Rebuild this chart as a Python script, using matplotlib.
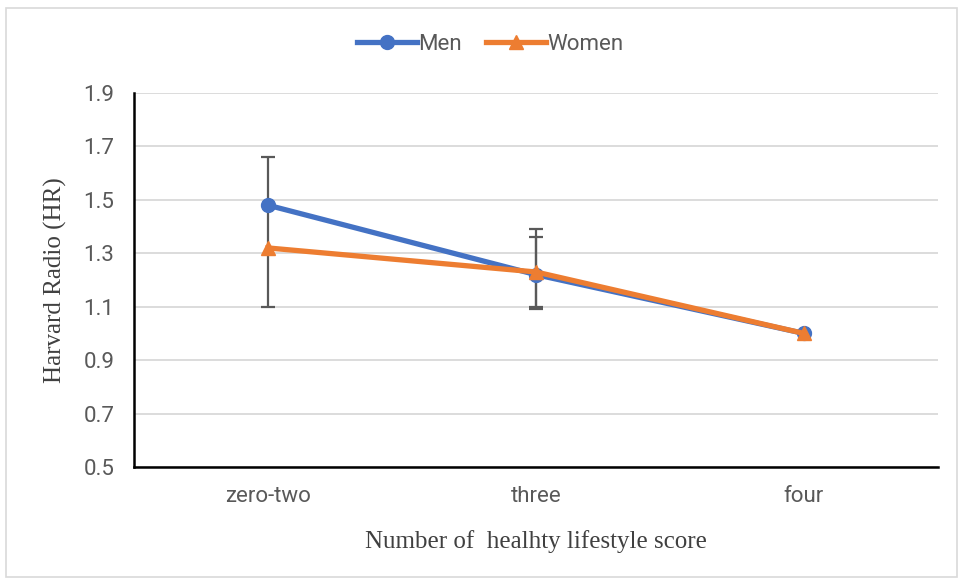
import numpy as np
import matplotlib.pyplot as plt
from matplotlib.patches import Rectangle

# data
categories = ['zero-two', 'three', 'four']
men = [1.48, 1.22, 1.00]
women = [1.32, 1.23, 1.00]
men_lower = [1.10, 1.09, np.nan]
men_upper = [1.66, 1.36, np.nan]
women_lower = [np.nan, 1.10, np.nan]
women_upper = [np.nan, 1.39, np.nan]
yticks = [0.5, 0.7, 0.9, 1.1, 1.3, 1.5, 1.7, 1.9]

blue = '#4472C4'
orange = '#ED7D31'
gray = '#595959'
sans = ['Roboto', 'DejaVu Sans']
serif = ['Liberation Serif', 'DejaVu Serif']

fig = plt.figure(figsize=(9.61, 5.8), dpi=100)
ax = fig.add_axes([0.1394, 0.1948, 0.8366, 0.6449])

x = np.arange(len(categories))

# error bars
men_err = [np.array(men) - np.array(men_lower), np.array(men_upper) - np.array(men)]
women_err = [np.array(women) - np.array(women_lower), np.array(women_upper) - np.array(women)]
ax.errorbar(x, men, yerr=men_err, fmt='none', ecolor=gray, elinewidth=1.6, capsize=5, capthick=1.6, zorder=2)
ax.errorbar(x, women, yerr=women_err, fmt='none', ecolor=gray, elinewidth=1.6, capsize=5, capthick=1.6, zorder=2)

ax.plot(x, men, color=blue, linewidth=3.8, marker='o', markersize=10, label='Men', zorder=3)
ax.plot(x, women, color=orange, linewidth=3.8, marker='^', markersize=10, label='Women', zorder=4)

ax.set_xlim(-0.5, 2.5)
ax.set_ylim(0.5, 1.9)
ax.set_yticks(yticks)
ax.set_yticklabels([f'{v:.1f}' for v in yticks])
ax.set_xticks(x)
ax.set_xticklabels(categories)
ax.tick_params(axis='both', length=0, labelsize=16, colors=gray, labelcolor=gray)
ax.tick_params(axis='x', pad=14)
ax.tick_params(axis='y', pad=14)
for lbl in ax.get_xticklabels() + ax.get_yticklabels():
    lbl.set_family(sans)

ax.yaxis.grid(True, color='#d9d9d9', linewidth=1.3)
ax.set_axisbelow(True)
for s in ['top', 'right']:
    ax.spines[s].set_visible(False)
for s in ['left', 'bottom']:
    ax.spines[s].set_linewidth(1.8)
    ax.spines[s].set_color('black')

ax.set_xlabel('Number of  healhty lifestyle score', fontsize=18, family=serif, color='#404040', labelpad=16)
ax.set_ylabel('Harvard Radio (HR)', fontsize=18, family=serif, color='#404040', labelpad=12)

leg = fig.legend(loc='center', bbox_to_anchor=(0.51, 0.924), ncol=2, frameon=False,
                 prop={'family': sans, 'size': 16}, handlelength=2.7, handletextpad=0.05,
                 columnspacing=1.1)
for t in leg.get_texts():
    t.set_color(gray)

# outer border
fig.patches.append(Rectangle((0.006, 0.005), 0.99, 0.982, transform=fig.transFigure,
                             fill=False, edgecolor='#d9d9d9', linewidth=1.2))

plt.savefig('out.png', dpi=100)
